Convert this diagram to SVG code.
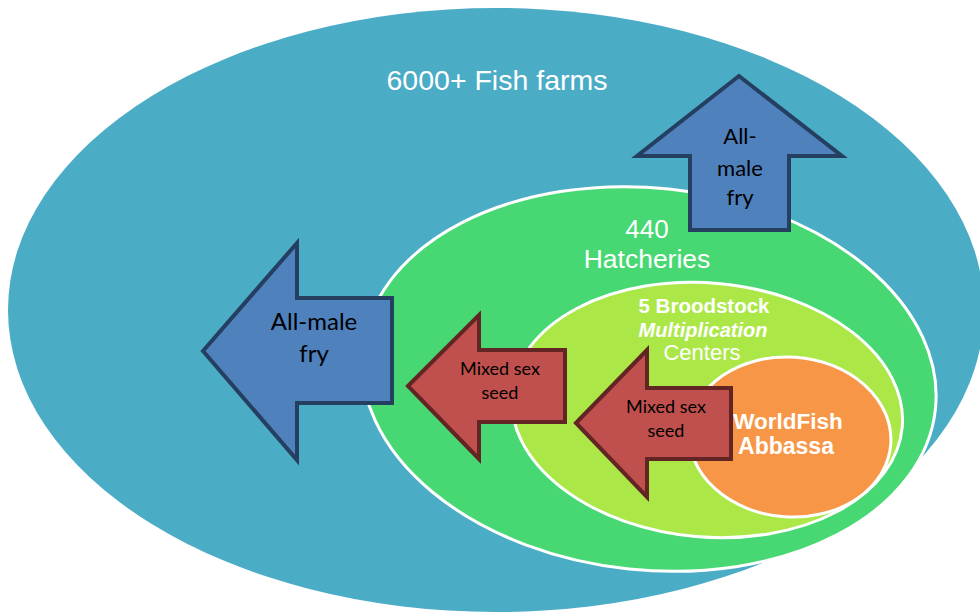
<svg xmlns="http://www.w3.org/2000/svg" width="980" height="615" viewBox="0 0 980 615">
<style>
.ring{stroke:#ffffff;stroke-width:3}
.lbl{fill:#ffffff;font-family:"Liberation Sans",Arial,sans-serif;text-anchor:middle}
.atxt{fill:#000000;font-family:Lato,"Open Sans",sans-serif;text-anchor:middle}
.blue{fill:#4F81BD;stroke:#243F60;stroke-width:4;stroke-linejoin:miter}
.red{fill:#C0504D;stroke:#632523;stroke-width:4;stroke-linejoin:miter}
</style>
<rect width="980" height="615" fill="#ffffff"/>
<g id="farms">
<ellipse cx="496" cy="310" rx="488" ry="302" fill="#4BACC6"/>
<text class="lbl" x="497" y="90" font-size="28.5">6000+ Fish farms</text>
</g>
<g id="hatcheries">
<ellipse class="ring" cx="649" cy="379" rx="288" ry="191" fill="#48D873" transform="rotate(6 649 379)"/>
</g>
<g id="broodstock">
<ellipse class="ring" cx="707" cy="410" rx="196" ry="127" fill="#ABE847" transform="rotate(5 707 410)"/>
<text class="lbl" x="704" y="313" font-size="20.5" font-weight="bold">5 Broodstock</text>
<text class="lbl" x="703" y="337" font-size="20" font-weight="bold" font-style="italic">Multiplication</text>
<text class="lbl" x="702" y="360" font-size="22">Centers</text>
</g>
<g id="worldfish">
<ellipse class="ring" cx="790" cy="437" rx="101" ry="80" fill="#F79646" transform="rotate(4 790 437)"/>
<text class="lbl" x="788" y="429" font-size="22.5" font-weight="bold">WorldFish</text>
<text class="lbl" x="786" y="454" font-size="23" font-weight="bold">Abbassa</text>
</g>
<g id="hatch-label">
<text class="lbl" x="647" y="238" font-size="26">440</text>
<text class="lbl" x="647" y="268" font-size="26.5">Hatcheries</text>
</g>
<g id="connectors">
<g id="arrow-up">
<polygon class="blue" points="739,76 842,156 789,156 789,230 690,230 690,156 637,156"/>
<text class="atxt" x="740" y="144" font-size="22">All-</text>
<text class="atxt" x="740" y="176" font-size="22">male</text>
<text class="atxt" x="740" y="205" font-size="22">fry</text>
</g>
<g id="arrow-left">
<polygon class="blue" points="203,351 297,243 297,298 392,298 392,403 297,403 297,460"/>
<text class="atxt" x="314" y="330" font-size="24">All-male</text>
<text class="atxt" x="314" y="362" font-size="24">fry</text>
</g>
<g id="arrow-seed-1">
<polygon class="red" points="408,386 479,315 479,350 565,350 565,422 479,422 479,459"/>
<text class="atxt" x="500" y="375" font-size="18">Mixed sex</text>
<text class="atxt" x="500" y="399" font-size="18">seed</text>
</g>
<g id="arrow-seed-2">
<polygon class="red" points="576,423 647,350 647,388 731,388 731,459 647,459 647,497"/>
<text class="atxt" x="666" y="413" font-size="18">Mixed sex</text>
<text class="atxt" x="666" y="437" font-size="18">seed</text>
</g>
</g>
</svg>
